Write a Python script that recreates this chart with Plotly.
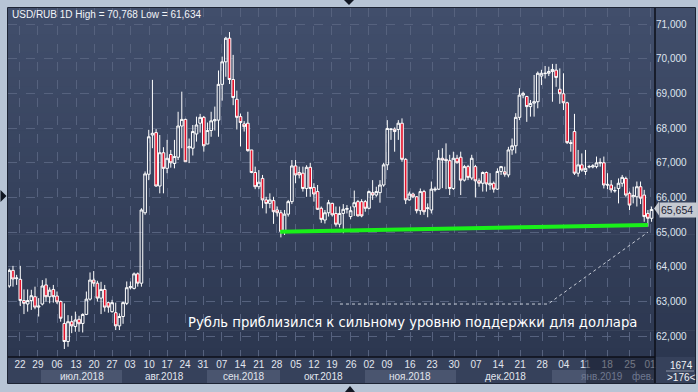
import plotly.graph_objects as go

# ---------------- data ----------------
open_ = [63.45,63.90,63.66,63.64,63.03,62.93,63.03,63.14,62.84,62.93,63.48,63.14,63.35,63.16,63.00,62.37,61.85,62.42,62.28,62.49,
         62.37,62.63,63.07,63.62,63.53,63.10,63.35,62.97,62.71,62.68,62.30,62.57,62.95,63.40,63.38,63.80,63.53,65.56,
         66.67,67.80,67.87,66.33,67.29,66.84,67.24,66.98,67.16,68.06,68.25,67.43,67.42,67.83,68.14,68.31,67.54,67.93,68.21,68.23,69.26,
         69.91,70.59,69.40,68.83,68.33,68.12,68.14,67.37,66.72,66.31,66.55,65.93,65.83,65.91,65.64,65.56,65.04,65.52,65.88,66.91,
         66.72,66.70,66.26,66.87,66.29,66.17,65.69,65.35,65.56,65.83,65.54,65.23,65.54,65.66,65.45,65.73,65.88,65.88,65.88,65.69,66.14,66.07,
         66.14,66.36,66.94,67.96,67.97,67.96,68.14,67.10,65.93,66.10,66.02,65.62,66.17,65.68,65.64,66.22,66.24,67.13,67.10,67.06,
         66.26,67.13,67.16,66.50,66.89,66.56,66.89,66.48,66.41,66.72,66.36,66.41,66.24,66.75,66.74,66.65,67.37,67.49,68.31,68.95,
         68.91,68.62,68.72,68.76,69.50,69.57,69.58,69.63,69.67,69.12,68.99,68.73,67.58,67.90,66.70,66.94,66.75,66.88,66.88,66.89,
         66.99,67.00,66.38,66.36,66.19,66.26,66.41,66.55,66.12,66.02,66.02,66.31,66.07,65.54,65.40]
high = [63.95,64.03,63.77,64.03,63.35,63.35,63.34,63.43,63.10,63.62,63.67,63.41,63.48,63.29,63.03,62.95,62.61,62.59,62.71,62.59,
        62.66,63.29,63.84,63.88,63.60,63.57,63.48,63.00,63.05,62.97,62.66,63.00,63.58,63.58,63.84,63.84,65.69,66.75,
        67.95,69.39,67.97,67.80,67.45,67.66,67.37,67.66,68.47,69.05,68.27,67.70,68.09,68.33,68.41,68.35,68.16,68.47,68.62,69.66,70.06,
        70.63,70.768,70.11,69.08,68.42,68.20,68.47,67.37,66.89,66.79,66.65,66.02,66.12,66.02,65.74,65.64,65.64,65.93,67.08,67.08,
        66.89,66.89,66.93,67.00,66.41,66.36,65.74,65.64,65.93,65.85,65.74,65.74,65.81,65.78,65.74,66.20,65.93,65.95,65.93,66.20,66.50,66.31,
        66.50,67.00,68.23,68.00,68.02,68.23,68.28,67.13,66.17,66.14,66.04,66.26,66.22,65.83,66.46,66.31,67.37,67.42,67.56,67.23,
        67.32,67.23,67.32,66.94,66.94,67.23,66.94,66.55,66.75,66.75,66.70,66.46,66.84,66.91,66.89,67.46,67.70,68.43,69.15,69.05,
        68.93,68.81,69.53,69.63,69.68,69.79,69.77,69.85,69.85,69.72,69.58,68.76,67.66,68.41,67.37,67.27,67.37,66.94,66.96,67.18,
        67.13,67.18,66.70,66.50,66.31,66.55,66.65,66.60,66.17,66.31,66.46,66.46,66.22,65.64,65.74]
low = [63.40,63.43,63.48,62.87,62.64,62.71,62.76,62.78,62.57,62.89,63.00,62.95,62.97,62.93,62.42,61.634,61.70,62.09,62.13,62.13,
       62.11,62.61,63.03,63.43,63.00,62.64,62.71,62.68,62.68,62.18,62.18,62.36,62.90,63.35,63.35,63.43,63.43,65.50,
       66.50,67.42,66.31,66.12,66.12,66.70,66.86,66.84,67.08,67.42,67.03,66.99,67.21,67.61,67.87,67.32,67.54,67.75,67.93,67.75,68.79,
       69.48,69.27,68.66,67.96,67.47,67.90,67.32,66.70,66.24,66.24,65.69,65.54,65.69,65.24,65.45,64.85,64.92,65.45,65.81,66.41,
       66.55,66.17,66.02,66.02,65.88,65.64,65.27,65.25,65.45,65.45,65.16,65.14,64.97,65.54,65.37,65.47,65.45,65.43,65.59,65.66,65.93,66.02,
       65.85,66.31,66.79,67.66,67.32,67.66,67.03,65.81,65.91,65.98,65.54,65.50,65.50,65.43,65.54,66.17,66.22,66.27,66.24,66.07,
       66.22,66.98,66.07,66.46,66.50,66.50,66.00,66.31,66.17,66.17,66.22,66.14,66.22,66.65,66.60,66.58,67.23,67.27,68.23,68.86,
       68.18,68.33,68.33,68.57,69.24,69.43,69.50,68.76,69.19,68.70,68.52,67.54,67.32,66.65,66.60,66.74,66.65,66.84,66.84,66.84,
       66.89,66.26,66.24,66.14,66.14,65.83,66.31,66.02,65.64,65.83,65.74,65.81,65.30,65.16,65.30]
close = [63.90,63.65,63.68,63.03,62.95,63.03,63.17,62.84,62.87,63.45,63.14,63.33,63.14,62.99,62.52,61.85,62.42,62.30,62.47,62.36,
         62.63,63.07,63.62,63.53,63.10,63.35,62.84,62.84,62.97,62.30,62.57,62.97,63.40,63.43,63.80,63.53,65.64,66.68,
         67.75,67.85,66.33,67.29,66.84,67.13,67.00,67.18,68.06,68.25,67.03,67.46,67.90,68.09,68.31,67.49,67.93,68.21,68.24,69.26,69.91,
         70.59,69.40,68.88,68.31,68.16,68.04,67.35,66.72,66.31,66.44,65.93,65.83,65.93,65.59,65.56,65.02,65.52,65.88,66.91,66.65,
         66.65,66.26,66.87,66.26,66.10,65.66,65.37,65.56,65.85,65.50,65.23,65.54,65.66,65.68,65.62,65.85,65.47,65.47,65.69,66.17,66.07,66.17,
         66.36,66.94,67.99,67.97,67.90,68.14,67.10,65.93,66.10,66.02,65.62,66.17,65.59,65.70,66.24,66.24,67.13,67.08,67.06,66.26,
         67.13,67.00,66.50,66.89,66.58,67.13,66.48,66.41,66.72,66.39,66.41,66.24,66.75,66.89,66.67,67.37,67.49,68.31,68.95,69.00,
         68.62,68.71,68.76,69.58,69.58,69.58,69.63,69.69,69.46,68.99,68.73,67.58,67.56,66.70,66.94,66.79,66.84,66.89,66.91,67.00,
         67.01,66.36,66.36,66.22,66.20,66.41,66.58,66.07,65.78,66.06,66.31,65.98,65.45,65.40,65.654]
idx = list(range(len(close)))

day_tick_pos = [2.9,7.8,13.0,18.2,23.1,28.0,32.9,38.1,43.0,47.9,52.8,57.9,62.9,68.0,72.9,78.1,83.0,87.9,93.1,98.0,102.9,
                109.2,115.2,121.2,127.2,133.2,139.2,145.2,151.1,156.9,162.9,169.1,174.6]
day_tick_text = ["22","29","06","13","20","27","03","10","17","24","31","07","14","21","28","05","12","19","26","02","09",
                 "16","23","30","07","14","21","28","04","11","18","25","01"]
month_pos = [19.8,42.4,64.0,85.5,109.2,135.1,161.6,172.8]
month_text = ["июл.2018","авг.2018","сен.2018","окт.2018","ноя.2018","дек.2018","янв.2019","фев."]
price_ticks = [62,63,64,65,66,67,68,69,70,71]
price_tick_text = ["62,000","63,000","64,000","65,000","66,000","67,000","68,000","69,000","70,000","71,000"]

support_x = [73.8, 174.0]
support_y = [65.01, 65.21]
pointer_x = [90.1, 146.8, 174.0]
pointer_y = [62.93, 62.93, 65.0]
last_price = 65.654

# ---------------- figure ----------------
W, H = 698, 392
L, R, T, B = 8, 43, 8, 35
pw, ph = W - L - R, H - T - B
RIGHT = 695
def px(x): return (x - L) / pw
def py(y): return (H - B - y) / ph

fig = go.Figure()
fig.add_trace(go.Candlestick(
    x=idx, open=open_, high=high, low=low, close=close,
    increasing=dict(line=dict(color="white", width=1), fillcolor="rgba(0,0,0,0)"),
    decreasing=dict(line=dict(color="white", width=1), fillcolor="#e3122b"),
    whiskerwidth=0, hoverinfo="skip", showlegend=False))
fig.add_trace(go.Scatter(x=support_x, y=support_y, mode="lines",
                         line=dict(color="#19f019", width=4), showlegend=False, hoverinfo="skip"))
fig.add_trace(go.Scatter(x=pointer_x, y=pointer_y, mode="lines",
                         line=dict(color="#c9ced8", width=1, dash="dot"), showlegend=False, hoverinfo="skip"))

shapes = []
# vertical gradient background (plot + right panel)
top = (65, 78, 107); bot = (44, 55, 80)
n = 40
for i in range(n):
    t = i / (n - 1)
    c = tuple(round(bot[k] + (top[k] - bot[k]) * t) for k in range(3))
    shapes.append(dict(type="rect", xref="paper", yref="paper", x0=0, x1=px(RIGHT),
                       y0=i / n, y1=(i + 1) / n + 0.002, line=dict(width=0),
                       fillcolor="rgb(%d,%d,%d)" % c, layer="below"))
# x-axis area
shapes.append(dict(type="rect", xref="paper", yref="paper", x0=0, x1=px(RIGHT), y0=py(383), y1=0,
                   line=dict(width=0), fillcolor="#36415b", layer="below"))
for a, b in [(41, 122), (207, 280), (365, 456), (552, 655)]:
    shapes.append(dict(type="rect", xref="paper", yref="paper", x0=px(a), x1=px(b), y0=py(383), y1=py(370),
                       line=dict(width=0), fillcolor="#4a556f", layer="below"))
# overlay on right end of x-axis
shapes.append(dict(type="rect", xref="paper", yref="paper", x0=px(586), x1=1, y0=py(383), y1=0,
                   line=dict(width=0), fillcolor="rgba(22,28,44,0.55)", layer="above"))
# borders
shapes.append(dict(type="line", xref="paper", yref="paper", x0=1, x1=1, y0=py(383), y1=py(7),
                   line=dict(color="#0c0f18", width=1.5), layer="above"))
shapes.append(dict(type="line", xref="paper", yref="paper", x0=0, x1=1, y0=0, y1=0,
                   line=dict(color="#0c0f18", width=1.5), layer="above"))
shapes.append(dict(type="rect", xref="paper", yref="paper", x0=px(7.5), x1=px(RIGHT + 0.5), y0=py(383.5), y1=py(7.5),
                   line=dict(color="#1d2434", width=1), layer="above"))
# separator under 1674
shapes.append(dict(type="line", xref="paper", yref="paper", x0=px(666), x1=px(694), y0=py(371), y1=py(371),
                   line=dict(color="#8a93a6", width=1), layer="above"))
# price tag arrow
shapes.append(dict(type="path", xref="paper", yref="paper",
                   path="M %f %f L %f %f L %f %f Z" % (px(654), py(208.5), px(659), py(201.5), px(659), py(215.5)),
                   fillcolor="#c5c9d1", line=dict(width=0), layer="above"))
# ui triangles
for pts in [[(344, 0), (354, 0), (349, 5)], [(345, 392), (355, 392), (350, 386)], [(0.5, 190), (0.5, 202), (6.5, 196)]]:
    path = "M %f %f L %f %f L %f %f Z" % (px(pts[0][0]), py(pts[0][1]), px(pts[1][0]), py(pts[1][1]), px(pts[2][0]), py(pts[2][1]))
    shapes.append(dict(type="path", xref="paper", yref="paper", path=path, fillcolor="#111622",
                       line=dict(width=0), layer="above"))

ann = []
ann.append(dict(xref="paper", yref="paper", x=px(10), y=py(15), xanchor="left", yanchor="middle",
                text="USD/RUB 1D High = 70,768 Low = 61,634", showarrow=False,
                font=dict(family="Arial, Liberation Sans", size=10, color="#f2f4f8")))
ann.append(dict(xref="paper", yref="paper", x=px(186), y=py(322), xanchor="left", yanchor="middle",
                text="Рубль приблизился к сильному уровню поддержки для доллара", showarrow=False,
                font=dict(family="DejaVu Sans", size=13.2, color="#ffffff")))
for p, t in zip(month_pos, month_text):
    dim = t.startswith("янв") or t.startswith("фев")
    ann.append(dict(xref="x", yref="paper", x=p, y=py(376.5), xanchor="center", yanchor="middle",
                    text=t, showarrow=False,
                    font=dict(family="Arial, Liberation Sans", size=10, color="#6f7890" if dim else "#e2e6ee")))
ann.append(dict(xref="paper", yref="y", x=px(659), y=last_price, xanchor="left", yanchor="middle",
                text="65,654 ", showarrow=False, bgcolor="#c5c9d1", borderpad=1,
                font=dict(family="Arial, Liberation Sans", size=10.5, color="#1c2334")))
ann.append(dict(xref="paper", yref="paper", x=px(681), y=py(365.5), xanchor="center", yanchor="middle",
                text="1674", showarrow=False, font=dict(family="Arial, Liberation Sans", size=10, color="#f0f2f6")))
ann.append(dict(xref="paper", yref="paper", x=px(681), y=py(377), xanchor="center", yanchor="middle",
                text="&gt;176&lt;", showarrow=False, font=dict(family="Arial, Liberation Sans", size=10, color="#f0f2f6")))

fig.update_layout(
    width=W, height=H, margin=dict(l=L, r=R, t=T, b=B),
    paper_bgcolor="#b7c4d5", plot_bgcolor="rgba(0,0,0,0)",
    boxgap=0.1, boxgroupgap=0.2,
    shapes=shapes, annotations=ann, showlegend=False,
    xaxis=dict(range=[-0.354, 175.94], tickvals=day_tick_pos, ticktext=day_tick_text,
               showgrid=True, gridcolor="#56627e", griddash="dash", gridwidth=1,
               zeroline=False, showline=False, ticks="", rangeslider=dict(visible=False),
               tickfont=dict(family="Arial, Liberation Sans", size=10, color="#e2e6ee")),
    yaxis=dict(range=[61.403, 71.461], side="right", tickvals=price_ticks, ticktext=price_tick_text,
               showgrid=True, gridcolor="#56627e", griddash="dash", gridwidth=1,
               zeroline=False, showline=False, ticks="",
               tickfont=dict(family="Arial, Liberation Sans", size=10, color="#dfe4ee")),
)
fig.write_html("out.html")
